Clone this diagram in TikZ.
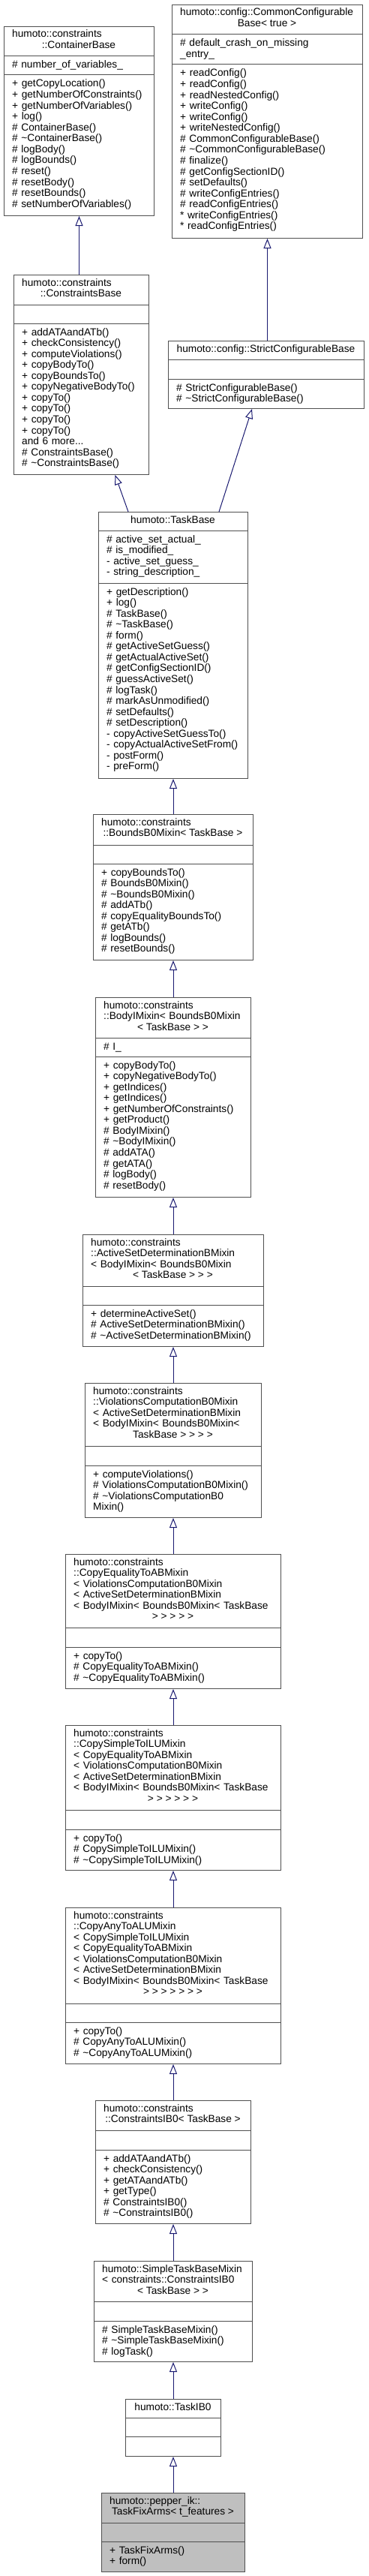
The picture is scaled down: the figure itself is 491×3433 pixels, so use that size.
\documentclass[tikz,border=0pt]{standalone}
\usepackage{fontspec}
\setmainfont{Liberation Sans}
\usepackage{tikz}
\usetikzlibrary{arrows.meta}

\begin{document}
\begin{tikzpicture}[
            x=1pt, y=-1pt,
            cls/.style={draw={rgb,255:red,80;green,80;blue,80}, fill=white,
                    line width=1pt, anchor=north west, inner sep=0pt},
            sep/.style={draw={rgb,255:red,80;green,80;blue,80}, line width=1pt},
            txt/.style={anchor=base west, inner sep=0pt, text width=300pt,
                    align=left, font=\fontsize{13.7}{14.56}\selectfont},
            ttl/.style={anchor=base, inner sep=0pt,
                    font=\fontsize{13.7}{14.56}\selectfont},
            inherit/.style={-{Triangle[length=13pt, width=10pt, fill=white]},
                    line width=1pt, color={rgb,255:red,25;green,25;blue,112}}
        ]
        \useasboundingbox[fill=white] (0,0) rectangle (491,3433);

        % ---------------------------------------------------------------
        % CLASSES
        % ---------------------------------------------------------------

        % ContainerBase
        \node[cls, minimum width=200pt, minimum height=252pt] (container) at (5,35) {};
        \draw[sep] (5,75) -- (205,75) (5,100) -- (205,100);
        \node[txt] (container-t) at (16,50) {humoto::constraints};
        \node[ttl] (container-c) at (105,64.6) {::ContainerBase};
        \node[txt] (container-a) at (16,91) {\# number\_of\_variables\_};
        \node[txt] (container-m) at (16,116) {+ getCopyLocation()\\+ getNumberOfConstraints()\\
            + getNumberOfVariables()\\+ log()\\\# ContainerBase()\\\# \textasciitilde ContainerBase()\\
            \# logBody()\\\# logBounds()\\\# reset()\\\# resetBody()\\\# resetBounds()\\
            \# setNumberOfVariables()};

        % CommonConfigurableBase
        \node[cls, minimum width=254pt, minimum height=311pt] (common) at (229,6) {};
        \draw[sep] (229,46) -- (483,46) (229,86) -- (483,86);
        \node[txt] (common-t) at (240,21) {humoto::config::CommonConfigurable};
        \node[ttl] (common-c) at (356,35.6) {Base< true >};
        \node[txt] (common-a) at (240,62) {\# default\_crash\_on\_missing\\\_entry\_};
        \node[txt] (common-m) at (240,102) {+ readConfig()\\+ readConfig()\\+ readNestedConfig()\\
            + writeConfig()\\+ writeConfig()\\+ writeNestedConfig()\\\# CommonConfigurableBase()\\
            \# \textasciitilde CommonConfigurableBase()\\\# finalize()\\\# getConfigSectionID()\\
            \# setDefaults()\\\# writeConfigEntries()\\\# readConfigEntries()\\
            {*} writeConfigEntries()\\{*} readConfigEntries()};

        % ConstraintsBase
        \node[cls, minimum width=180pt, minimum height=266pt] (cbase) at (18,366) {};
        \draw[sep] (18,406) -- (198,406) (18,431) -- (198,431);
        \node[txt] (cbase-t) at (29,381) {humoto::constraints};
        \node[ttl] (cbase-c) at (108,395.6) {::ConstraintsBase};
        \node[txt] (cbase-m) at (29,447) {+ addATAandATb()\\+ checkConsistency()\\+ computeViolations()\\
            + copyBodyTo()\\+ copyBoundsTo()\\+ copyNegativeBodyTo()\\+ copyTo()\\+ copyTo()\\
            + copyTo()\\+ copyTo()\\and 6 more...\\\# ConstraintsBase()\\\# \textasciitilde ConstraintsBase()};

        % StrictConfigurableBase
        \node[cls, minimum width=261pt, minimum height=90pt] (strict) at (224,454) {};
        \draw[sep] (224,479) -- (485,479) (224,505) -- (485,505);
        \node[ttl] (strict-c) at (354.5,469) {humoto::config::StrictConfigurableBase};
        \node[txt] (strict-m) at (235,521) {\# StrictConfigurableBase()\\\# \textasciitilde StrictConfigurableBase()};

        % TaskBase
        \node[cls, minimum width=199pt, minimum height=355pt] (taskbase) at (131,682) {};
        \draw[sep] (131,707) -- (330,707) (131,777) -- (330,777);
        \node[ttl] (taskbase-c) at (230.5,697) {humoto::TaskBase};
        \node[txt] (taskbase-a) at (142,723) {\# active\_set\_actual\_\\\# is\_modified\_\\
            - active\_set\_guess\_\\- string\_description\_};
        \node[txt] (taskbase-m) at (142,793) {+ getDescription()\\+ log()\\\# TaskBase()\\
            \# \textasciitilde TaskBase()\\\# form()\\\# getActiveSetGuess()\\\# getActualActiveSet()\\
            \# getConfigSectionID()\\\# guessActiveSet()\\\# logTask()\\\# markAsUnmodified()\\
            \# setDefaults()\\\# setDescription()\\- copyActiveSetGuessTo()\\
            - copyActualActiveSetFrom()\\- postForm()\\- preForm()};

        % BoundsB0Mixin
        \node[cls, minimum width=213pt, minimum height=194pt] (bounds) at (124,1085) {};
        \draw[sep] (124,1126) -- (337,1126) (124,1151) -- (337,1151);
        \node[txt] (bounds-t) at (135,1100) {humoto::constraints};
        \node[ttl] (bounds-c) at (230.5,1114.6) {::BoundsB0Mixin< TaskBase >};
        \node[txt] (bounds-m) at (135,1167) {+ copyBoundsTo()\\\# BoundsB0Mixin()\\
            \# \textasciitilde BoundsB0Mixin()\\\# addATb()\\\# copyEqualityBoundsTo()\\\# getATb()\\
            \# logBounds()\\\# resetBounds()};

        % BodyIMixin
        \node[cls, minimum width=207pt, minimum height=266pt] (bodyi) at (127,1329) {};
        \draw[sep] (127,1383) -- (334,1383) (127,1408) -- (334,1408);
        \node[txt] (bodyi-t) at (138,1344) {humoto::constraints\\::BodyIMixin< BoundsB0Mixin};
        \node[ttl] (bodyi-c) at (230.5,1373.1) {< TaskBase > >};
        \node[txt] (bodyi-a) at (138,1399) {\# I\_};
        \node[txt] (bodyi-m) at (138,1424) {+ copyBodyTo()\\+ copyNegativeBodyTo()\\+ getIndices()\\
            + getIndices()\\+ getNumberOfConstraints()\\+ getProduct()\\\# BodyIMixin()\\
            \# \textasciitilde BodyIMixin()\\\# addATA()\\\# getATA()\\\# logBody()\\\# resetBody()};

        % ActiveSetDeterminationBMixin
        \node[cls, minimum width=241pt, minimum height=149pt] (asd) at (110,1645) {};
        \draw[sep] (110,1714) -- (351,1714) (110,1739) -- (351,1739);
        \node[txt] (asd-t) at (121,1660) {humoto::constraints\\::ActiveSetDeterminationBMixin\\
            < BodyIMixin< BoundsB0Mixin};
        \node[ttl] (asd-c) at (230.5,1703.7) {< TaskBase > > >};
        \node[txt] (asd-m) at (121,1755) {+ determineActiveSet()\\\# ActiveSetDeterminationBMixin()\\
            \# \textasciitilde ActiveSetDeterminationBMixin()};

        % ViolationsComputationB0Mixin
        \node[cls, minimum width=235pt, minimum height=179pt] (viol) at (113,1843) {};
        \draw[sep] (113,1927) -- (348,1927) (113,1953) -- (348,1953);
        \node[txt] (viol-t) at (124,1858) {humoto::constraints\\::ViolationsComputationB0Mixin\\
            < ActiveSetDeterminationBMixin\\< BodyIMixin< BoundsB0Mixin<};
        \node[ttl] (viol-c) at (230.5,1916.2) {TaskBase > > > >};
        \node[txt] (viol-m) at (124,1969) {+ computeViolations()\\\# ViolationsComputationB0Mixin()\\
            \# \textasciitilde ViolationsComputationB0\\Mixin()};

        % CopyEqualityToABMixin
        \node[cls, minimum width=287pt, minimum height=179pt] (copyeq) at (87,2071) {};
        \draw[sep] (87,2169) -- (374,2169) (87,2195) -- (374,2195);
        \node[txt] (copyeq-t) at (98,2086) {humoto::constraints\\::CopyEqualityToABMixin\\
            < ViolationsComputationB0Mixin\\< ActiveSetDeterminationBMixin\\
            < BodyIMixin< BoundsB0Mixin< TaskBase};
        \node[ttl] (copyeq-c) at (230.5,2158.8) {> > > > >};
        \node[txt] (copyeq-m) at (98,2211) {+ copyTo()\\\# CopyEqualityToABMixin()\\
            \# \textasciitilde CopyEqualityToABMixin()};

        % CopySimpleToILUMixin
        \node[cls, minimum width=287pt, minimum height=193pt] (copysimple) at (87,2299) {};
        \draw[sep] (87,2412) -- (374,2412) (87,2438) -- (374,2438);
        \node[txt] (copysimple-t) at (98,2314) {humoto::constraints\\::CopySimpleToILUMixin\\
            < CopyEqualityToABMixin\\< ViolationsComputationB0Mixin\\< ActiveSetDeterminationBMixin\\
            < BodyIMixin< BoundsB0Mixin< TaskBase};
        \node[ttl] (copysimple-c) at (230.5,2401.4) {> > > > > >};
        \node[txt] (copysimple-m) at (98,2454) {+ copyTo()\\\# CopySimpleToILUMixin()\\
            \# \textasciitilde CopySimpleToILUMixin()};

        % CopyAnyToALUMixin
        \node[cls, minimum width=287pt, minimum height=208pt] (copyany) at (87,2542) {};
        \draw[sep] (87,2670) -- (374,2670) (87,2695) -- (374,2695);
        \node[txt] (copyany-t) at (98,2557) {humoto::constraints\\::CopyAnyToALUMixin\\
            < CopySimpleToILUMixin\\< CopyEqualityToABMixin\\< ViolationsComputationB0Mixin\\
            < ActiveSetDeterminationBMixin\\< BodyIMixin< BoundsB0Mixin< TaskBase};
        \node[ttl] (copyany-c) at (230.5,2658.9) {> > > > > > >};
        \node[txt] (copyany-m) at (98,2711) {+ copyTo()\\\# CopyAnyToALUMixin()\\
            \# \textasciitilde CopyAnyToALUMixin()};

        % ConstraintsIB0
        \node[cls, minimum width=207pt, minimum height=164pt] (cib0) at (127,2799) {};
        \draw[sep] (127,2839) -- (334,2839) (127,2865) -- (334,2865);
        \node[txt] (cib0-t) at (138,2814) {humoto::constraints};
        \node[ttl] (cib0-c) at (230.5,2828.6) {::ConstraintsIB0< TaskBase >};
        \node[txt] (cib0-m) at (138,2881) {+ addATAandATb()\\+ checkConsistency()\\+ getATAandATb()\\
            + getType()\\\# ConstraintsIB0()\\\# \textasciitilde ConstraintsIB0()};

        % SimpleTaskBaseMixin
        \node[cls, minimum width=211pt, minimum height=134pt] (simple) at (125,3013) {};
        \draw[sep] (125,3067) -- (336,3067) (125,3093) -- (336,3093);
        \node[txt] (simple-t) at (136,3028) {humoto::SimpleTaskBaseMixin\\< constraints::ConstraintsIB0};
        \node[ttl] (simple-c) at (230.5,3057.1) {< TaskBase > >};
        \node[txt] (simple-m) at (136,3109) {\# SimpleTaskBaseMixin()\\
            \# \textasciitilde SimpleTaskBaseMixin()\\\# logTask()};

        % TaskIB0
        \node[cls, minimum width=127pt, minimum height=76pt] (taskib0) at (167,3197) {};
        \draw[sep] (167,3222) -- (294,3222) (167,3247) -- (294,3247);
        \node[ttl] (taskib0-c) at (230.5,3212) {humoto::TaskIB0};

        % TaskFixArms
        \node[cls, fill={rgb,255:red,191;green,191;blue,191},
              minimum width=191pt, minimum height=105pt] (fixarms) at (135,3322) {};
        \draw[sep] (135,3362) -- (326,3362) (135,3387) -- (326,3387);
        \node[txt] (fixarms-t) at (146,3337) {humoto::pepper\_ik::};
        \node[ttl] (fixarms-c) at (230.5,3351.6) {TaskFixArms< t\_features >};
        \node[txt] (fixarms-m) at (146,3403) {+ TaskFixArms()\\+ form()};

        % ---------------------------------------------------------------
        % INHERITANCE
        % ---------------------------------------------------------------
        \draw[inherit] (cbase.north -| container.south) -- (container.south);
        \draw[inherit] (strict.north -| common.south) -- (common.south);
        \draw[inherit] ([xshift=-60pt]taskbase.north) -- ([xshift=45pt]cbase.south);
        \draw[inherit] ([xshift=61pt]taskbase.north) -- ([xshift=-19pt]strict.south);
        \draw[inherit] (bounds.north) -- (taskbase.south);
        \draw[inherit] (bodyi.north) -- (bounds.south);
        \draw[inherit] (asd.north) -- (bodyi.south);
        \draw[inherit] (viol.north) -- (asd.south);
        \draw[inherit] (copyeq.north) -- (viol.south);
        \draw[inherit] (copysimple.north) -- (copyeq.south);
        \draw[inherit] (copyany.north) -- (copysimple.south);
        \draw[inherit] (cib0.north) -- (copyany.south);
        \draw[inherit] (simple.north) -- (cib0.south);
        \draw[inherit] (taskib0.north) -- (simple.south);
        \draw[inherit] (fixarms.north) -- (taskib0.south);

    \end{tikzpicture}
\end{document}
